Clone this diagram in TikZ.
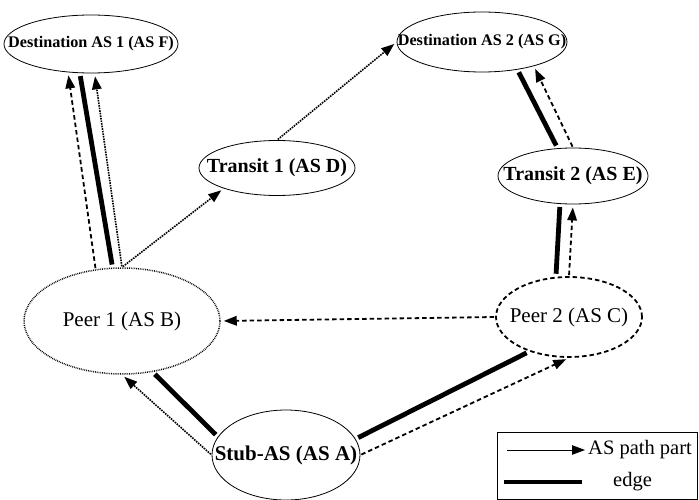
\documentclass[tikz,border=0pt]{standalone}
\usepackage{fontspec}
\setmainfont{Liberation Serif}
\usetikzlibrary{shapes.geometric}
\usetikzlibrary{arrows.meta}

% keep the ellipse size free of the text width
\newcommand{\asname}[1]{\makebox[0pt]{#1}}

\begin{document}
\begin{tikzpicture}[x=1pt, y=-1pt,
  as/.style = {draw, ellipse, inner sep=0pt, line width=0.8pt},
  dest/.style = {as, font=\fontsize{16.2}{19}\selectfont\bfseries},
  trans/.style = {as, font=\fontsize{20}{24}\selectfont\bfseries},
  peer/.style = {as, font=\fontsize{21}{25}\selectfont},
  tip/.style = {-{Triangle[length=13pt,width=9.5pt]}},
  ppart/.style = {tip, densely dotted, line width=1.6pt, shorten >=3pt, shorten <=1pt},
  drt/.style = {tip, dash pattern=on 4.5pt off 3pt, line width=1.8pt, shorten >=3pt, shorten <=1pt},
  lnk/.style = {line width=4.8pt, shorten >=3pt, shorten <=3pt}]
\useasboundingbox (0,0) rectangle (699,500);

\node[dest, minimum width=174pt, minimum height=58pt] (F) at (91,44) {\asname{Destination AS 1 (AS F)}};
\node[dest, minimum width=170pt, minimum height=60pt] (G) at (482,42) {\asname{Destination AS 2 (AS G)}};
\node[trans, minimum width=156pt, minimum height=55pt] (D) at (277,168) {\asname{Transit 1 (AS D)}};
\node[trans, minimum width=150pt, minimum height=56pt] (E) at (573,176) {\asname{Transit 2 (AS E)}};
\node[peer, densely dotted, line width=1.5pt, minimum width=196pt, minimum height=106pt] (B) at (122,321) {\asname{Peer 1 (AS B)}};
\node[peer, dash pattern=on 4.5pt off 3pt, line width=1.8pt, minimum width=146pt, minimum height=80pt] (C) at (569,317) {\asname{Peer 2 (AS C)}};
\node[trans, font=\fontsize{21}{25}\selectfont\bfseries, minimum width=148pt, minimum height=90pt] (A) at (286,455) {\asname{Stub-AS (AS A)}};

\draw[drt] (B.117) -- (F.231);
\draw[lnk] (B.100) -- (F.249);
\draw[ppart] (B.north) -- (F.277);
\draw[ppart] (B.north) -- (D.201);
\draw[ppart] (D.north) -- (G.west);
\draw[lnk] (G.322) -- (E.119);
\draw[drt] (E.north) -- (G.335);
\draw[lnk] (C.108) -- (E.245);
\draw[drt] (C.north) -- (E.south);
\draw[drt] (C.west) -- (B.east);
\draw[ppart] (A.west) -- (B.south);
\draw[lnk] (A.165) -- (B.301);
\draw[lnk] (A.13) -- (C.221);
\draw[drt] (A.east) -- (C.south);

% legend
\draw[line width=0.8pt] (497,432) rectangle (697,499);
\coordinate (k1) at (507,450);
\coordinate (k2) at (585,450);
\coordinate (k3) at (504,482);
\coordinate (k4) at (582,482);
\draw[tip, line width=0.8pt] (k1) -- (k2);
\draw[line width=4.8pt] (k3) -- (k4);
\node[anchor=west, inner sep=0pt, font=\fontsize{20.5}{24}\selectfont] (kp) at (588,450) {AS path part};
\node[anchor=west, inner sep=0pt, font=\fontsize{20.5}{24}\selectfont] (ke) at (613,482) {edge};
\end{tikzpicture}
\end{document}
